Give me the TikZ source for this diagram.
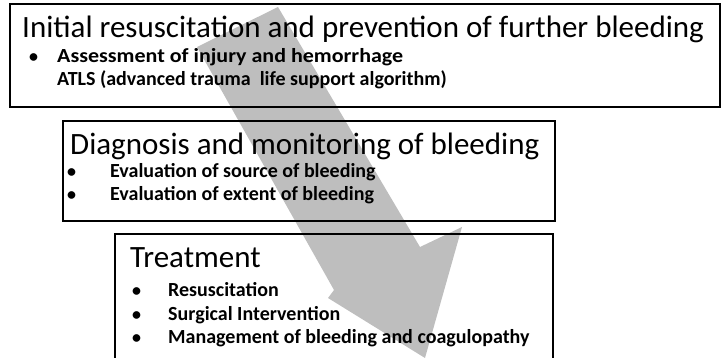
\documentclass[tikz,border=0pt]{standalone}
\usepackage{fontspec}
\setmainfont{Carlito}
\definecolor{arrowgray}{RGB}{190,190,190}
\tikzset{
  boxline/.style={draw=black, line width=1.2pt},
  headtext/.style={anchor=base west, inner sep=0pt, font=\fontsize{31}{33}\selectfont},
  headtextb/.style={anchor=base west, inner sep=0pt, font=\fontsize{31}{33}\selectfont},
  itemtext/.style={anchor=base west, inner sep=0pt, font=\bfseries\fontsize{20}{22}\selectfont},
  bulletmark/.style={anchor=base west, inner sep=0pt, font=\bfseries\fontsize{18}{20}\selectfont},
}
\begin{document}
\begin{tikzpicture}[x=1pt,y=-1pt]
\useasboundingbox (0,0) rectangle (721,358);
% big arrow
\fill[arrowgray] (278,7) -- (197,47) -- (334,290) -- (328,298) -- (425,358)
  -- (462,227) -- (420,247) -- cycle;
% boxes
\draw[boxline] (10,4) rectangle (720,107);
\draw[boxline] (63,121) rectangle (555,221);
\draw[boxline] (115,358) -- (115,234) -- (553,234) -- (553,358);
% box 1
\node[headtext] (t1) at (22,38) {Initial resuscitation and prevention of further bleeding};
\node[bulletmark] (b11) at (29,63) {\textbullet};
\node[itemtext] (i11) at (57,63) {\scalebox{1.1}[1]{Assessment of injury and hemorrhage}};
\node[itemtext] (i12) at (57,86) {ATLS (advanced trauma\ \ life support algorithm)};
% box 2
\node[headtextb] (t2) at (70,155) {Diagnosis and monitoring of bleeding};
\node[bulletmark] (b21) at (67,178) {\textbullet};
\node[itemtext] (i21) at (110,178) {Evaluation of source of bleeding};
\node[bulletmark] (b22) at (67,201) {\textbullet};
\node[itemtext] (i22) at (110,201) {Evaluation of extent of bleeding};
% box 3
\node[headtextb] (t3) at (130,268) {Treatment};
\node[bulletmark] (b31) at (132,297) {\textbullet};
\node[itemtext] (i31) at (168,297) {Resuscitation};
\node[bulletmark] (b32) at (132,321) {\textbullet};
\node[itemtext] (i32) at (168,321) {Surgical Intervention};
\node[bulletmark] (b33) at (132,344) {\textbullet};
\node[itemtext] (i33) at (168,344) {Management of bleeding and coagulopathy};
\end{tikzpicture}
\end{document}
